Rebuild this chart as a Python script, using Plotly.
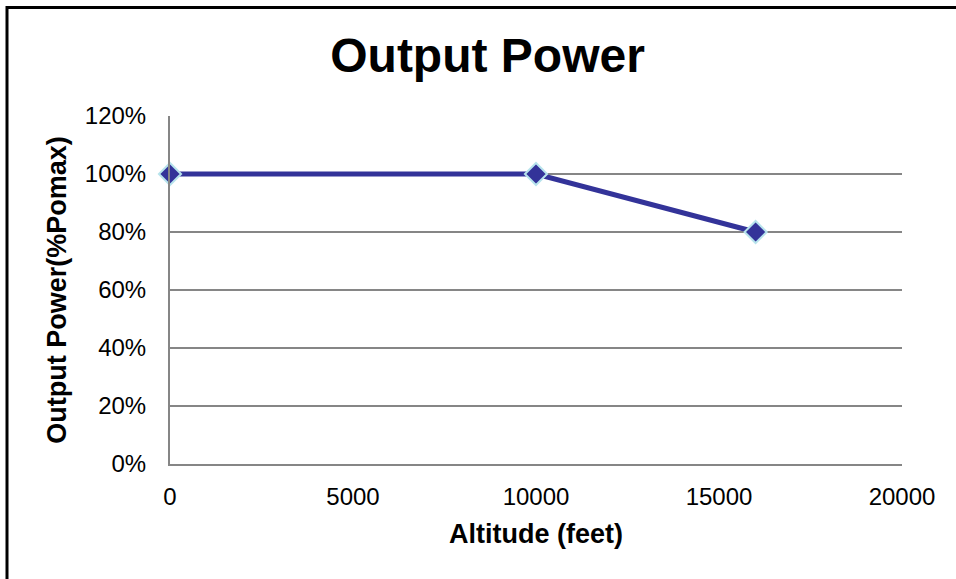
import plotly.graph_objects as go

altitude = [0, 10000, 16000]
power = [1.0, 1.0, 0.8]
x_ticks = [0, 5000, 10000, 15000, 20000]
y_ticks = [0, 0.2, 0.4, 0.6, 0.8, 1.0, 1.2]
y_tick_text = ["0%", "20%", "40%", "60%", "80%", "100%", "120%"]

FONT = "Liberation Sans, Arial, sans-serif"

fig = go.Figure()
fig.add_trace(go.Scatter(
    x=altitude, y=power, mode="lines+markers", cliponaxis=False,
    line=dict(color="#333399", width=5),
    marker=dict(symbol="diamond", size=17, color="#333399",
                line=dict(color="#B7E3EC", width=2)),
    showlegend=False,
))

fig.update_layout(
    width=956, height=579,
    margin=dict(l=170, r=54, t=116, b=115),
    paper_bgcolor="white", plot_bgcolor="white",
    font=dict(family=FONT, color="black"),
    title=dict(text="<b>Output Power</b>", x=0.51, xanchor="center",
               y=0.905, yanchor="middle", font=dict(size=48, family=FONT)),
    xaxis=dict(range=[0, 20000], tickvals=x_ticks, ticktext=[str(v) for v in x_ticks],
               showgrid=False, zeroline=False, showline=True, linecolor="#868686",
               linewidth=2, ticks="", tickfont=dict(size=24), ticklabelstandoff=10,
               title=dict(text="<b>Altitude (feet)</b>", font=dict(size=27), standoff=15)),
    yaxis=dict(range=[0, 1.2], tickvals=y_ticks, ticktext=y_tick_text,
               showgrid=True, gridcolor="#868686", gridwidth=2, zeroline=False,
               showline=True, linecolor="#868686", linewidth=2, ticks="",
               tickfont=dict(size=24), ticklabelstandoff=17,
               title=dict(text="<b>Output Power(%Pomax)</b>", font=dict(size=27), standoff=10)),
    shapes=[dict(type="rect", xref="paper", yref="paper",
                 x0=(7 - 170) / 732, x1=1.5, y0=-1, y1=(464 - 7.5) / 348,
                 line=dict(color="black", width=3), fillcolor="rgba(0,0,0,0)", layer="above")],
)

fig.write_html("out.html", config={"displayModeBar": False},
               post_script="document.body.style.margin='0';")
